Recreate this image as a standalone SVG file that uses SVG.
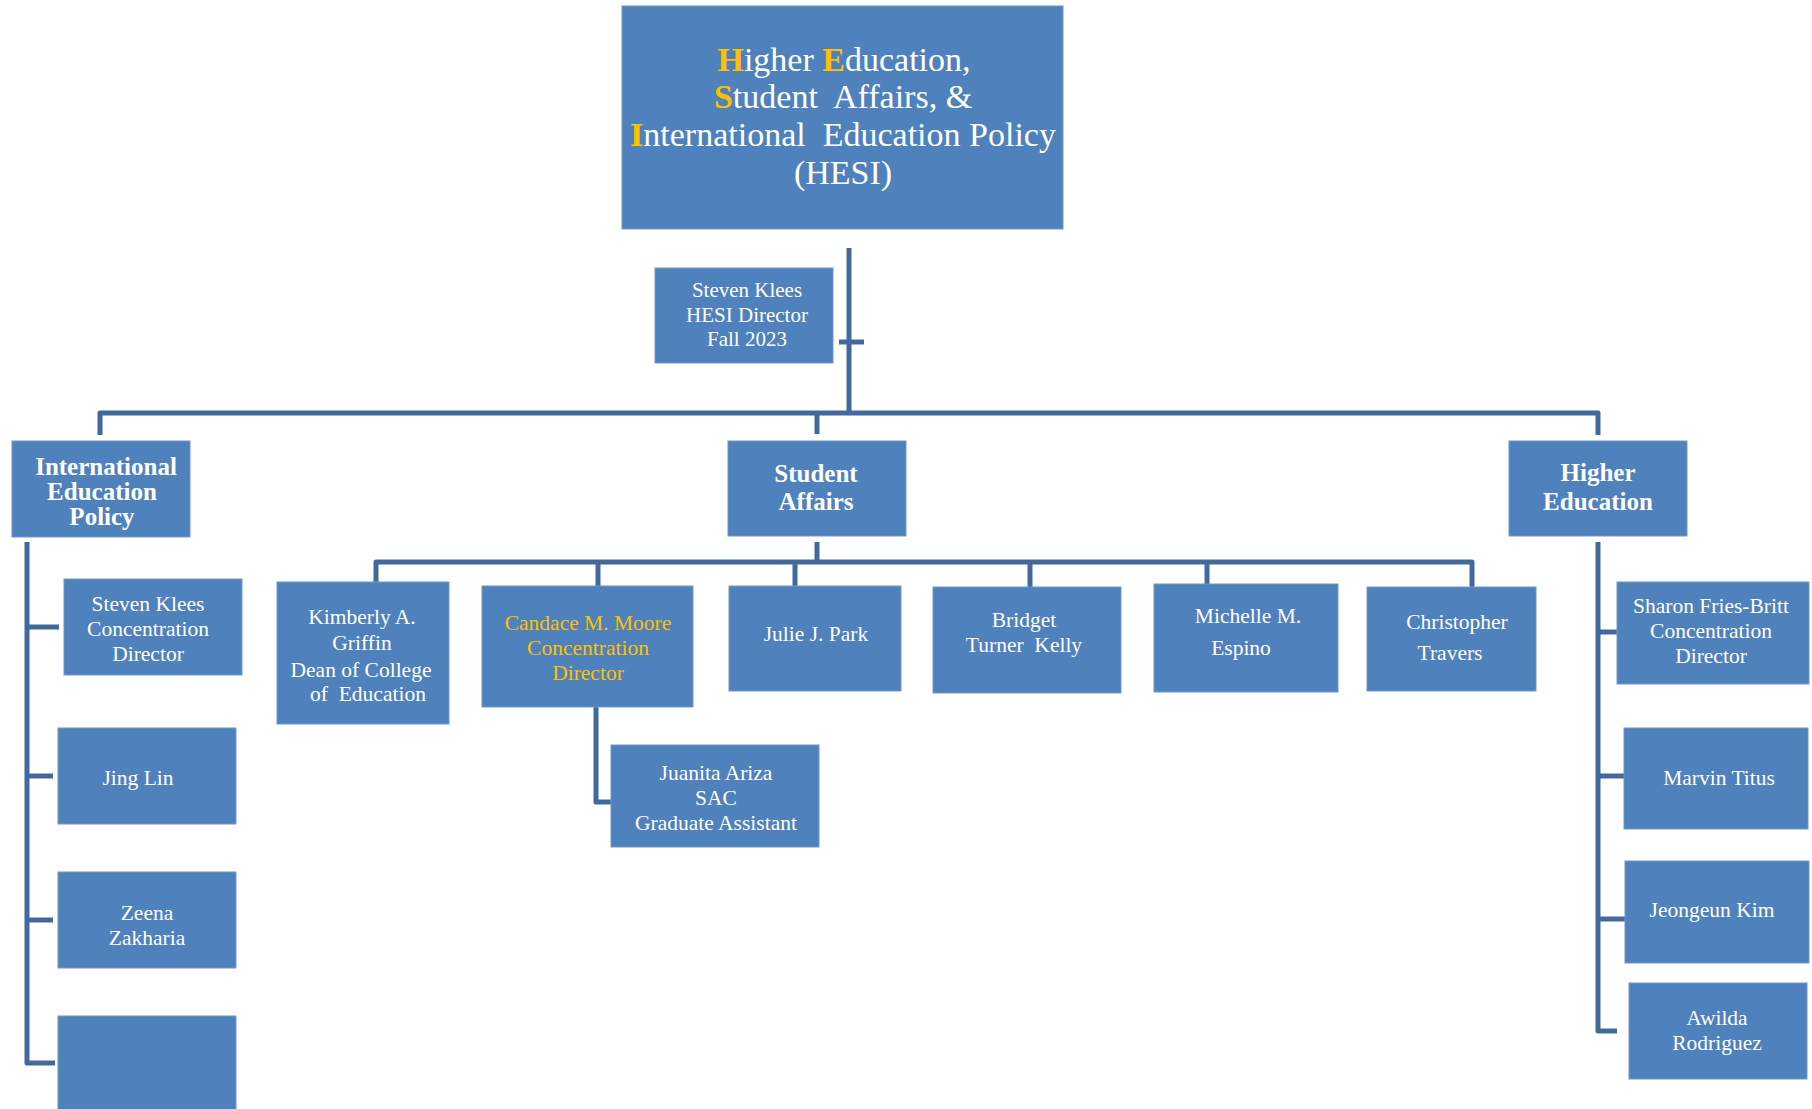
<svg xmlns="http://www.w3.org/2000/svg" width="1812" height="1109" viewBox="0 0 1812 1109">
<style>
.box{fill:#4F81BD;stroke:#7097C8;stroke-width:1}
.ln{fill:none;stroke:#41699B;stroke-width:5;stroke-linejoin:round;stroke-linecap:butt}
text{font-family:"Liberation Serif","Times New Roman",serif;fill:#FFFFFF;text-anchor:middle;white-space:pre}
.t{font-size:34px}
.d{font-size:21px}
.h{font-size:25px;font-weight:bold}
.p{font-size:21.5px}
.o{fill:#FFC000}
.ob{fill:#FFC000;font-weight:bold}
</style>
<rect width="1812" height="1109" fill="#FFFFFF"/>
<g id="connectors">
<path class="ln" d="M849,248 V413"/>
<path class="ln" d="M839,342 H864"/>
<path class="ln" d="M100,435 V413 H1598 V435"/>
<path class="ln" d="M817,413 V434"/>
<path class="ln" d="M27,542 V1063 H55"/>
<path class="ln" d="M27,627 H59"/>
<path class="ln" d="M27,776 H53"/>
<path class="ln" d="M27,920 H53"/>
<path class="ln" d="M817,542 V562"/>
<path class="ln" d="M376,582 V562 H1472 V587"/>
<path class="ln" d="M598,562 V586"/>
<path class="ln" d="M795,562 V586"/>
<path class="ln" d="M1030,562 V587"/>
<path class="ln" d="M1207,562 V584"/>
<path class="ln" d="M596,707 V802 H611"/>
<path class="ln" d="M1598,542 V1031 H1617"/>
<path class="ln" d="M1598,632 H1617"/>
<path class="ln" d="M1598,776 H1624"/>
<path class="ln" d="M1598,919 H1625"/>
</g>
<g id="hesi">
<rect class="box" x="622" y="6" width="441" height="223"/>
<text class="t" x="844" y="71"><tspan class="ob">H</tspan>igher <tspan class="ob">E</tspan>ducation,</text>
<text class="t" x="843" y="108"><tspan class="ob">S</tspan>tudent  Affairs, &amp;</text>
<text class="t" x="843" y="146"><tspan class="ob">I</tspan>nternational  Education Policy</text>
<text class="t" x="843" y="184">(HESI)</text>
</g>
<g id="director">
<rect class="box" x="655" y="268" width="178" height="95"/>
<text class="d" x="747" y="297">Steven Klees</text>
<text class="d" x="747" y="322">HESI Director</text>
<text class="d" x="747" y="346">Fall 2023</text>
</g>
<g id="iep">
<rect class="box" x="12" y="441" width="178" height="96"/>
<text class="h" x="106" y="475">International</text>
<text class="h" x="102" y="500">Education</text>
<text class="h" x="102" y="525">Policy</text>
</g>
<g id="sa">
<rect class="box" x="728" y="441" width="178" height="95"/>
<text class="h" x="816" y="482">Student</text>
<text class="h" x="816" y="510">Affairs</text>
</g>
<g id="he">
<rect class="box" x="1509" y="441" width="178" height="95"/>
<text class="h" x="1598" y="481">Higher</text>
<text class="h" x="1598" y="510">Education</text>
</g>
<g id="klees-iep">
<rect class="box" x="64" y="579" width="178" height="96"/>
<text class="p" x="148" y="611">Steven Klees</text>
<text class="p" x="148" y="636">Concentration</text>
<text class="p" x="148" y="661">Director</text>
</g>
<g id="jinglin">
<rect class="box" x="58" y="728" width="178" height="96"/>
<text class="p" x="138" y="785">Jing Lin</text>
</g>
<g id="zeena">
<rect class="box" x="58" y="872" width="178" height="96"/>
<text class="p" x="147" y="920">Zeena</text>
<text class="p" x="147" y="945">Zakharia</text>
</g>
<g id="empty">
<rect class="box" x="58" y="1016" width="178" height="100"/>
</g>
<g id="kimberly">
<rect class="box" x="277" y="582" width="172" height="142"/>
<text class="p" x="362" y="624">Kimberly A.</text>
<text class="p" x="362" y="650">Griffin</text>
<text class="p" x="361" y="677">Dean of College</text>
<text class="p" x="368" y="701">of  Education</text>
</g>
<g id="candace">
<rect class="box" x="482" y="586" width="211" height="121"/>
<text class="p o" x="588" y="630">Candace M. Moore</text>
<text class="p o" x="588" y="655">Concentration</text>
<text class="p o" x="588" y="680">Director</text>
</g>
<g id="julie">
<rect class="box" x="729" y="586" width="172" height="105"/>
<text class="p" x="816" y="641">Julie J. Park</text>
</g>
<g id="juanita">
<rect class="box" x="611" y="745" width="208" height="102"/>
<text class="p" x="716" y="780">Juanita Ariza</text>
<text class="p" x="716" y="805">SAC</text>
<text class="p" x="716" y="830">Graduate Assistant</text>
</g>
<g id="bridget">
<rect class="box" x="933" y="587" width="188" height="106"/>
<text class="p" x="1024" y="627">Bridget</text>
<text class="p" x="1024" y="652">Turner  Kelly</text>
</g>
<g id="michelle">
<rect class="box" x="1154" y="584" width="184" height="108"/>
<text class="p" x="1248" y="623">Michelle M.</text>
<text class="p" x="1241" y="655">Espino</text>
</g>
<g id="christopher">
<rect class="box" x="1367" y="587" width="169" height="104"/>
<text class="p" x="1457" y="629">Christopher</text>
<text class="p" x="1450" y="660">Travers</text>
</g>
<g id="sharon">
<rect class="box" x="1617" y="582" width="192" height="102"/>
<text class="p" x="1711" y="613">Sharon Fries-Britt</text>
<text class="p" x="1711" y="638">Concentration</text>
<text class="p" x="1711" y="663">Director</text>
</g>
<g id="marvin">
<rect class="box" x="1624" y="728" width="184" height="101"/>
<text class="p" x="1719" y="785">Marvin Titus</text>
</g>
<g id="jeongeun">
<rect class="box" x="1625" y="861" width="184" height="102"/>
<text class="p" x="1712" y="917">Jeongeun Kim</text>
</g>
<g id="awilda">
<rect class="box" x="1629" y="983" width="178" height="96"/>
<text class="p" x="1717" y="1025">Awilda</text>
<text class="p" x="1717" y="1050">Rodriguez</text>
</g>
</svg>
